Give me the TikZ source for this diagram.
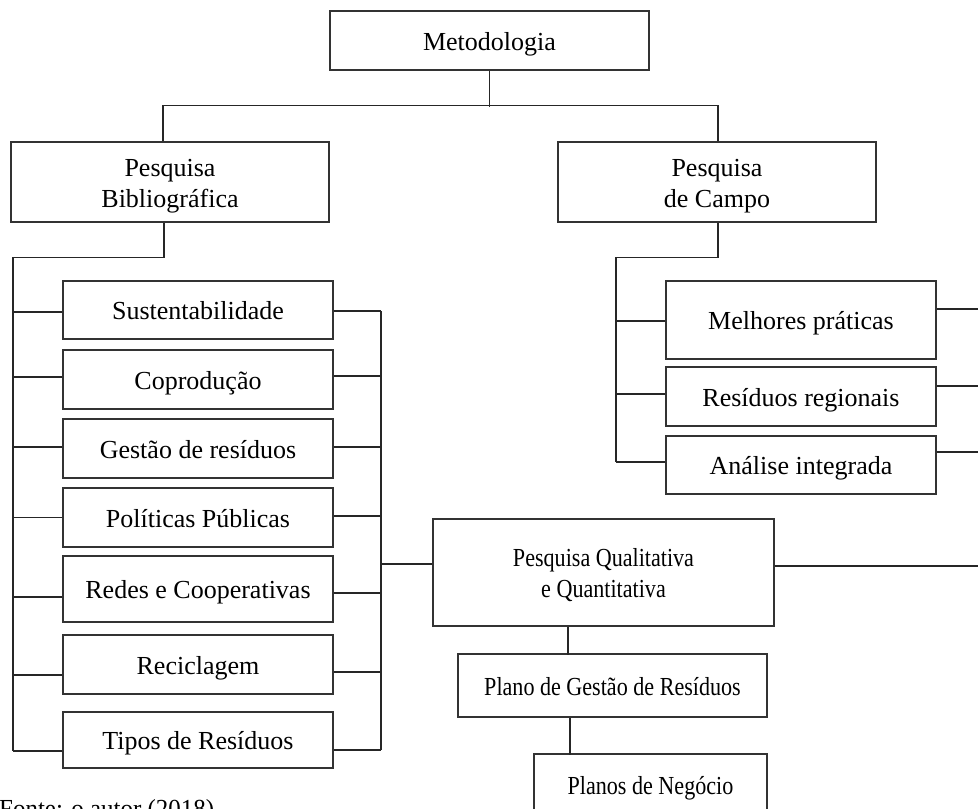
\documentclass[tikz,border=0pt]{standalone}
\usepackage{graphicx}
\usepackage{fontspec}
\setmainfont{Liberation Serif}
\newcommand\tstrut{\rule[-6pt]{0pt}{31pt}}
\newcommand\nrw[1]{\scalebox{0.85}[1]{#1}}
\begin{document}
\begin{tikzpicture}[x=1pt,y=-1pt,
  box/.style={draw=black!80, line width=1.2pt, inner sep=0pt, align=center,
    font=\fontsize{26}{31}\selectfont},
  ln/.style={draw=black!85, line width=1.1pt}]
\useasboundingbox (0,0) rectangle (978,809);
% boxes
\node[box, minimum width=319pt, minimum height=59pt] (meto) at (489.5,40.5) {\tstrut Metodologia};
\node[box, minimum width=318pt, minimum height=80pt] (pb) at (170,182) {\tstrut Pesquisa\\\tstrut Bibliográfica};
\node[box, minimum width=318pt, minimum height=80pt] (pc) at (717,182) {\tstrut Pesquisa\\\tstrut de Campo};
\node[box, minimum width=270pt, minimum height=58pt] (sust) at (198,310) {\tstrut Sustentabilidade};
\node[box, minimum width=270pt, minimum height=59pt] (copr) at (198,379.5) {\tstrut Coprodução};
\node[box, minimum width=270pt, minimum height=59pt] (gest) at (198,448.5) {\tstrut Gestão de resíduos};
\node[box, minimum width=270pt, minimum height=59pt] (poli) at (198,517.5) {\tstrut Políticas Públicas};
\node[box, minimum width=270pt, minimum height=66pt] (rede) at (198,589) {\tstrut Redes e Cooperativas};
\node[box, minimum width=270pt, minimum height=59pt] (reci) at (198,664.5) {\tstrut Reciclagem};
\node[box, minimum width=270pt, minimum height=56pt] (tipo) at (198,740) {\tstrut Tipos de Resíduos};
\node[box, minimum width=270pt, minimum height=78pt] (melh) at (801,320) {\tstrut Melhores práticas};
\node[box, minimum width=270pt, minimum height=59pt] (resi) at (801,396.5) {\tstrut Resíduos regionais};
\node[box, minimum width=270pt, minimum height=58pt] (anal) at (801,465) {\tstrut Análise integrada};
\node[box, minimum width=341pt, minimum height=107pt] (pq) at (603.5,572.5) {\tstrut\nrw{Pesquisa Qualitativa}\\\tstrut\nrw{e Quantitativa}};
\node[box, minimum width=309pt, minimum height=63pt] (pgr) at (612.5,685.5) {\tstrut\nrw{Plano de Gestão de Resíduos}};
\node[box, minimum width=233pt, minimum height=61pt] (pn) at (650.5,784.5) {\tstrut\nrw{Planos de Negócio}};
\node[anchor=base west, inner sep=0pt, font=\fontsize{26}{31}\selectfont] (fonte) at (-1,817) {\scalebox{0.96}[1]{Fonte: o autor (2018)}};
% bus coordinates
\coordinate (lbB) at (13,751);
\coordinate (rbT) at (381,311);
\coordinate (rbB) at (381,750);
\coordinate (rcB) at (616,462);
% top level
\draw[ln] (meto.south) -- ++(0,36);
\draw[ln] ([xshift=-7pt]pb.north) -- ++(0,-36) -| ([xshift=1pt]pc.north);
% left column
\draw[ln] ([xshift=-6pt]pb.south) -- ++(0,35) -| (lbB);
\draw[ln] ([yshift=-2pt]sust.west) -- ++(-50,0);
\draw[ln] ([yshift=2.5pt]copr.west) -- ++(-50,0);
\draw[ln] ([yshift=1.5pt]gest.west) -- ++(-50,0);
\draw[ln] (poli.west) -- ++(-50,0);
\draw[ln] ([yshift=-8pt]rede.west) -- ++(-50,0);
\draw[ln] ([yshift=-10.5pt]reci.west) -- ++(-50,0);
\draw[ln] ([yshift=-11pt]tipo.west) -- (lbB);
% right bus of left column
\draw[ln] (rbT) -- (rbB);
\draw[ln] ([yshift=-1pt]sust.east) -- (rbT);
\draw[ln] ([yshift=3.5pt]copr.east) -- ++(48,0);
\draw[ln] ([yshift=1.5pt]gest.east) -- ++(48,0);
\draw[ln] ([yshift=1.5pt]poli.east) -- ++(48,0);
\draw[ln] ([yshift=-4pt]rede.east) -- ++(48,0);
\draw[ln] ([yshift=-7.5pt]reci.east) -- ++(48,0);
\draw[ln] ([yshift=-10pt]tipo.east) -- (rbB);
\draw[ln] ([yshift=8.5pt]pq.west) -- ++(-52,0);
% right column
\draw[ln] ([xshift=1pt]pc.south) -- ++(0,35) -| (rcB);
\draw[ln] ([yshift=-1pt]melh.west) -- ++(-50,0);
\draw[ln] ([yshift=2.5pt]resi.west) -- ++(-50,0);
\draw[ln] ([yshift=3pt]anal.west) -- (rcB);
\draw[ln] ([yshift=11pt]melh.east) -- ++(45,0);
\draw[ln] ([yshift=10.5pt]resi.east) -- ++(45,0);
\draw[ln] ([yshift=13pt]anal.east) -- ++(45,0);
\draw[ln] ([yshift=6.5pt]pq.east) -- ++(210,0);
% lower chain
\draw[ln] ([xshift=-35.5pt]pq.south) -- ++(0,28);
\draw[ln] ([xshift=-42.5pt]pgr.south) -- ++(0,37);
\end{tikzpicture}
\end{document}
